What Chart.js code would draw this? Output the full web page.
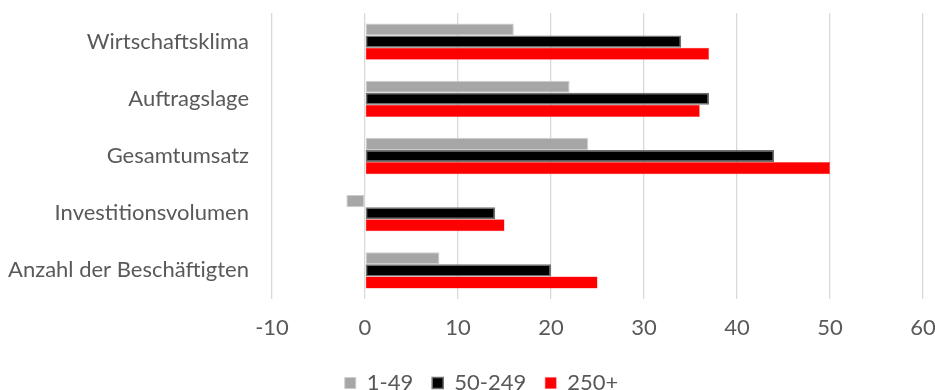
<!DOCTYPE html>
<html>
<head>
<meta charset="utf-8">
<title>Erwartungen nach Unternehmensgröße</title>
<script src="https://cdn.jsdelivr.net/npm/chart.js@4.4.1/dist/chart.umd.min.js"></script>
<style>
  html, body { margin: 0; padding: 0; background: #fff; }
  #wrap { width: 935px; height: 390px; position: relative; }
</style>
</head>
<body>
<div id="wrap"><canvas id="sizeChart"></canvas></div>
<script>
const categories = [
    'Wirtschaftsklima',
    'Auftragslage',
    'Gesamtumsatz',
    'Investitionsvolumen',
    'Anzahl der Beschäftigten'
]
// Saldo je Größenklasse (Beschäftigte)
const small = [16, 22, 24, -2, 8]      // 1-49
const medium = [34, 37, 44, 14, 20]    // 50-249
const large = [37, 36, 50, 15, 25]     // 250+

const seriesLabels = ['1-49', '50-249', '250+']
const axisMin = -10
const axisMax = 60
const axisStep = 10

const textColor = '#595959'
const fontFamily = 'Lato, "Open Sans", sans-serif'

// moves the legend row after layout, Chart.js always centres it on the canvas
const legendShift = {
    id: 'legendShift',
    afterLayout(chart, args, opts) {
        const lg = chart.legend
        if (!lg) return
        lg.left += opts.dx
        lg.right += opts.dx
        lg.top += opts.dy
        lg.bottom += opts.dy
    }
}

const ctx = document.getElementById('sizeChart').getContext('2d')

const data = {
    labels: categories,
    datasets: [
        {
            label: seriesLabels[0],
            data: small,
            backgroundColor: '#a6a6a6',
            borderColor: '#cdcdcd',
            borderWidth: 1
        },
        {
            label: seriesLabels[1],
            data: medium,
            backgroundColor: '#000000',
            borderColor: '#707070',
            borderWidth: 1.5
        },
        {
            label: seriesLabels[2],
            data: large,
            backgroundColor: '#ff0000',
            borderColor: '#ff4d4d',
            borderWidth: 0.5
        }
    ]
}

const config = {
    type: 'bar',
    data: data,
    plugins: [legendShift],
    options: {
        indexAxis: 'y',
        responsive: true,
        maintainAspectRatio: false,
        animation: false,
        layout: {
            padding: { top: 13, right: 12, bottom: 0, left: 0 }
        },
        datasets: {
            bar: {
                categoryPercentage: 0.634,
                barPercentage: 1.0,
                borderSkipped: false
            }
        },
        scales: {
            x: {
                min: axisMin,
                max: axisMax,
                ticks: {
                    stepSize: axisStep,
                    color: textColor,
                    padding: 16,
                    font: { family: fontFamily, size: 22 }
                },
                grid: {
                    color: '#d9d9d9',
                    lineWidth: 1.3,
                    drawTicks: false
                },
                border: { display: false },
                // plot reaches the right edge; fixed band for the tick row
                afterFit: scale => {
                    scale.paddingLeft = 0
                    scale.paddingRight = 0
                    scale.height = 40
                }
            },
            y: {
                grid: { display: false, drawTicks: false },
                border: { display: false },
                ticks: {
                    color: textColor,
                    padding: 23,
                    font: { family: fontFamily, size: 22 }
                },
                afterFit: scale => {
                    scale.width = 272
                    scale.paddingTop = 0
                    scale.paddingBottom = 0
                }
            }
        },
        plugins: {
            legend: {
                position: 'bottom',
                labels: {
                    color: textColor,
                    boxWidth: 11,
                    boxHeight: 11,
                    padding: 19,
                    font: { family: fontFamily, size: 22 }
                }
            },
            legendShift: { dx: 20, dy: 14 },
            tooltip: { enabled: false }
        }
    }
}

const sizeChart = new Chart(ctx, config)
</script>
</body>
</html>
